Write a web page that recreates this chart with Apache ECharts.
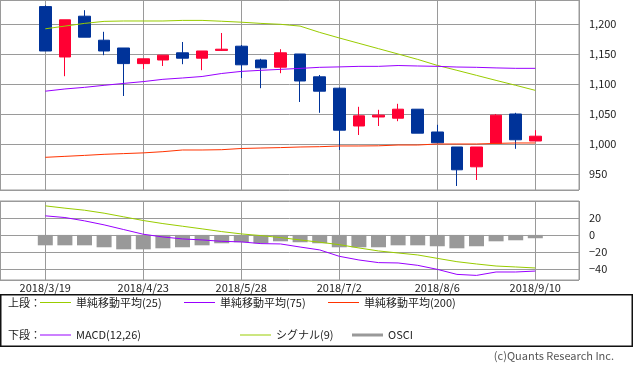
<!DOCTYPE html>
<html>
<head>
<meta charset="utf-8">
<script src="https://cdn.jsdelivr.net/npm/echarts@6/dist/echarts.min.js"></script>
<style>html,body{margin:0;padding:0;background:#fff}#c{width:633px;height:370px}</style>
</head>
<body>
<div id="c"></div>
<script>
// weekly categories
var dates = ['2018/3/19','2018/3/26','2018/4/2','2018/4/9','2018/4/16','2018/4/23','2018/4/30','2018/5/7','2018/5/14','2018/5/21','2018/5/28','2018/6/4','2018/6/11','2018/6/18','2018/6/25','2018/7/2','2018/7/9','2018/7/16','2018/7/23','2018/7/30','2018/8/6','2018/8/13','2018/8/20','2018/8/27','2018/9/3','2018/9/10'];
var openV  = [1229,1145,1213,1173,1160,1134,1140,1152,1143,1156,1163,1140,1128,1150,1112,1093,1030,1045,1043,1058,1020,995,962,1001,1050,1005];
var closeV = [1155,1207,1178,1155,1134,1142,1148,1143,1155,1158,1132,1127,1152,1105,1088,1023,1047,1048,1058,1018,1002,957,995,1048,1007,1013];
var lowV   = [1155,1113,1178,1148,1080,1125,1130,1133,1123,1155,1110,1093,1118,1070,1052,990,1015,1030,1038,1018,1002,930,940,1001,992,1005];
var highV  = [1231,1207,1223,1187,1160,1142,1148,1170,1155,1185,1165,1142,1158,1150,1115,1094,1062,1057,1067,1058,1032,995,995,1050,1052,1023];
var ma25  = [1192,1196.5,1201,1204.4,1205,1205,1205,1206,1206,1204.6,1203,1201,1199.5,1196.5,1186,1176.7,1167.8,1158.9,1150,1141,1131,1122.8,1114.4,1106,1097.8,1089.4];
var ma75  = [1088,1091.7,1094.4,1097.8,1101,1104,1107.8,1110,1112.5,1117.5,1121,1122.8,1124.4,1126,1127.8,1128.5,1129.4,1129.4,1130.8,1130,1129.4,1128.3,1127.8,1126.8,1126.1,1126.1];
var ma200 = [977.8,979.4,981,982.8,984,985.2,987.2,990,990,990.5,992.5,993.3,994,995,995.5,996.7,996.7,997,998.3,998.3,1000,1000,1000,1001,1001.7,1001.7];
var macd   = [22.4,20.4,16.5,11.8,6.3,0.8,-2.4,-4.7,-5.9,-7.5,-8.2,-10.2,-10.6,-14.2,-17.6,-25.1,-29.4,-32.5,-32.9,-35.7,-40.4,-46.3,-47.5,-43.5,-43.5,-42.4];
var signal = [34.1,31.4,29,25.5,21.2,16.9,13.3,10.2,7.1,3.9,1.2,-0.8,-3.1,-5.9,-8.6,-11.4,-15.3,-18.8,-21.2,-23.5,-27.5,-31.4,-34.1,-36.5,-37.6,-38.8];
var osci   = [-12.2,-12.2,-12.2,-14.5,-16.9,-16.9,-15.7,-14.5,-12.2,-9.8,-8.6,-9.8,-7.5,-8.6,-9.8,-14.5,-14.5,-14.5,-12.2,-12.2,-13.3,-15.7,-13.3,-7.5,-6.3,-3.9];

var FONT = '"Noto Sans CJK JP","Noto Sans",sans-serif';
var GRID = '#9a9a9a';
var TXT = '#222';

function pts(arr){ return arr.map(function(v,i){ return [i, v]; }); }
var candles = dates.map(function(d,i){ return [i, openV[i], closeV[i], lowV[i], highV[i]]; });

var xMin = -2.311, xMax = 27.23;

function xAxisCommon(gi, showLabel){
  return {
    type:'value', gridIndex:gi, min:xMin, max:xMax,
    axisLine:{show:false}, axisTick:{show:false},
    splitLine:{show:true, lineStyle:{color:GRID, width:1}},
    axisLabel:{show:showLabel, showMinLabel:false, showMaxLabel:false, margin:2, color:TXT, fontSize:11, fontFamily:FONT,
      formatter:function(v){ var k=Math.round(v); return (Math.abs(v-k)<1e-6 && dates[k]) ? dates[k] : ''; }}
  };
}
function yAxisCommon(gi, mn, mx, fmt){
  return {
    type:'value', gridIndex:gi, position:'right', min:mn, max:mx, splitNumber:5, scale:true,
    axisLine:{show:false},
    axisTick:{show:true, length:5, lineStyle:{color:GRID}},
    splitLine:{show:true, lineStyle:{color:GRID, width:1}},
    axisLabel:{showMinLabel:false, showMaxLabel:false, margin:10, color:TXT, fontSize:11, fontFamily:FONT, formatter:fmt}
  };
}

var legendBase = {orient:'horizontal', padding:0, itemGap:0, icon:'rect', itemWidth:31, itemHeight:1,
  textStyle:{color:TXT, fontSize:11, fontFamily:FONT}, selectedMode:false};
function lg(name, left, top, h){
  var o = JSON.parse(JSON.stringify(legendBase));
  o.data=[name]; o.left=left; o.top=top; if(h) o.itemHeight=h; return o;
}

var chart = echarts.init(document.getElementById('c'), null, {renderer:'canvas'});
chart.setOption({
  animation:false,
  backgroundColor:'#fff',
  textStyle:{fontFamily:FONT},
  grid:[
    {left:0, top:0, width:579, height:190, show:true, borderColor:GRID, borderWidth:1, backgroundColor:'transparent'},
    {left:0, top:201, width:579, height:79, show:true, borderColor:GRID, borderWidth:1, backgroundColor:'transparent'}
  ],
  xAxis:[xAxisCommon(0,false), xAxisCommon(1,true)],
  yAxis:[
    yAxisCommon(0, 923.33, 1240, function(v){ return Math.round(v).toString().replace(/\B(?=(\d{3})+(?!\d))/g, ','); }),
    yAxisCommon(1, -52.9, 39.8, function(v){ v=Math.round(v); return v<0 ? '\u2212'+Math.abs(v) : String(v); })
  ],
  legend:[
    lg('単純移動平均(25)', 40, 297),
    lg('単純移動平均(75)', 184, 297),
    lg('単純移動平均(200)', 328, 297),
    lg('MACD(12,26)', 40, 329.5),
    lg('シグナル(9)', 240, 329.5),
    lg('OSCI', 352, 329.5, 3)
  ],
  graphic:[
    {type:'rect', shape:{x:0.75, y:294.75, width:631.5, height:51.5}, style:{fill:'none', stroke:'#111', lineWidth:1.5}, z:10},
    {type:'text', left:8, top:297, style:{text:'上段：', fill:TXT, font:'11px '+FONT}},
    {type:'text', left:8, top:329.5, style:{text:'下段：', fill:TXT, font:'11px '+FONT}},
    {type:'text', right:19, top:350, style:{text:'(c)Quants Research Inc.', fill:'#555', font:'11px '+FONT}}
  ],
  series:[
    {type:'candlestick', name:'株価', xAxisIndex:0, yAxisIndex:0, data:candles, encode:{x:0, y:[1,2,3,4]},
     barWidth:12, itemStyle:{color:'#ff0033', color0:'#003399', borderColor:'#ff0033', borderColor0:'#003399', borderWidth:1}, z:3},
    {type:'line', name:'単純移動平均(25)', xAxisIndex:0, yAxisIndex:0, data:pts(ma25), symbol:'none', lineStyle:{color:'#99cc00', width:1}, itemStyle:{color:'#99cc00'}, z:4},
    {type:'line', name:'単純移動平均(75)', xAxisIndex:0, yAxisIndex:0, data:pts(ma75), symbol:'none', lineStyle:{color:'#9900ff', width:1}, itemStyle:{color:'#9900ff'}, z:4},
    {type:'line', name:'単純移動平均(200)', xAxisIndex:0, yAxisIndex:0, data:pts(ma200), symbol:'none', lineStyle:{color:'#ff3300', width:1}, itemStyle:{color:'#ff3300'}, z:4},
    {type:'bar', name:'OSCI', xAxisIndex:1, yAxisIndex:1, data:pts(osci), barWidth:15, itemStyle:{color:'#999999'}, z:2},
    {type:'line', name:'MACD(12,26)', xAxisIndex:1, yAxisIndex:1, data:pts(macd), symbol:'none', lineStyle:{color:'#9900ff', width:1}, itemStyle:{color:'#9900ff'}, z:4},
    {type:'line', name:'シグナル(9)', xAxisIndex:1, yAxisIndex:1, data:pts(signal), symbol:'none', lineStyle:{color:'#99cc00', width:1}, itemStyle:{color:'#99cc00'}, z:4}
  ]
});
</script>
</body>
</html>
